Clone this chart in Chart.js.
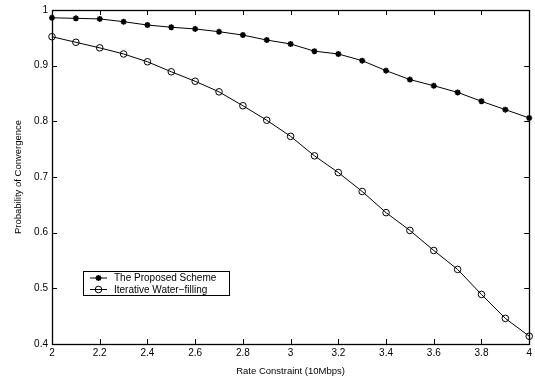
<!DOCTYPE html>
<html>
<head>
<meta charset="utf-8">
<script src="https://cdn.jsdelivr.net/npm/chart.js"></script>
<style>
    html, body { margin: 0; padding: 0; background: #fff; }
</style>
</head>
<body>
<canvas id="graficoConvergencia" width="535" height="383"></canvas>
<script>
// > Probabilidade de convergência em função da restrição de taxa
// > Duas curvas: esquema proposto (estrelas) e water-filling iterativo (círculos)

var taxas = [2.0, 2.1, 2.2, 2.3, 2.4, 2.5, 2.6, 2.7, 2.8, 2.9, 3.0,
             3.1, 3.2, 3.3, 3.4, 3.5, 3.6, 3.7, 3.8, 3.9, 4.0];

var probProposto = [0.986, 0.985, 0.984, 0.979, 0.973, 0.969, 0.966, 0.961, 0.955, 0.946, 0.939,
                    0.926, 0.921, 0.909, 0.891, 0.875, 0.864, 0.852, 0.836, 0.821, 0.806];

var probWaterFilling = [0.952, 0.942, 0.932, 0.921, 0.907, 0.889, 0.872, 0.853, 0.828, 0.802, 0.773,
                        0.738, 0.708, 0.674, 0.636, 0.604, 0.568, 0.534, 0.489, 0.446, 0.414];

var nomesSeries = ["The Proposed Scheme", "Iterative Water\u2212filling"];

var ticksX = [2, 2.2, 2.4, 2.6, 2.8, 3, 3.2, 3.4, 3.6, 3.8, 4];
var ticksY = [0.4, 0.5, 0.6, 0.7, 0.8, 0.9, 1];

var tituloX = "Rate Constraint (10Mbps)";
var tituloY = "Probability of Convergence";

var fonte = "'Liberation Sans', Arial, Helvetica, sans-serif";

// * Monta os pontos {x, y} a partir das listas
function pontos(valores) {
    var lista = [];
    for (let i = 0; i < taxas.length; i++) {
        lista.push({ x: taxas[i], y: valores[i] });
    }
    return lista;
}

function formataTick(v) {
    return String(Math.round(v * 10) / 10);
}

// ! Plugin que desenha a moldura, os ticks para dentro (estilo matlab) e a legenda
var molduraMatlab = {
    id: 'molduraMatlab',
    afterDraw: function (chart) {
        var ctx = chart.ctx;
        var area = chart.chartArea;
        var sx = chart.scales.x;
        var sy = chart.scales.y;
        var tam = 5;

        ctx.save();
        ctx.strokeStyle = '#000';
        ctx.lineWidth = 1;

        ctx.beginPath();
        sx.ticks.forEach(function (t) {
            var px = Math.round(sx.getPixelForValue(t.value)) + 0.5;
            ctx.moveTo(px, area.bottom);
            ctx.lineTo(px, area.bottom - tam);
            ctx.moveTo(px, area.top);
            ctx.lineTo(px, area.top + tam);
        });
        sy.ticks.forEach(function (t) {
            var py = Math.round(sy.getPixelForValue(t.value)) + 0.5;
            ctx.moveTo(area.left, py);
            ctx.lineTo(area.left + tam, py);
            ctx.moveTo(area.right, py);
            ctx.lineTo(area.right - tam, py);
        });
        ctx.stroke();

        ctx.lineWidth = 1.3;
        ctx.strokeRect(Math.round(area.left) + 0.5, Math.round(area.top) + 0.5,
                       Math.round(area.right - area.left), Math.round(area.bottom - area.top));

        // > Legenda dentro da área do gráfico
        var lx = area.left + 31;
        var ly = area.top + 261;
        var lw = 146;
        var lh = 24;
        ctx.fillStyle = '#fff';
        ctx.fillRect(lx, ly, lw, lh);
        ctx.lineWidth = 1;
        ctx.strokeRect(lx + 0.5, ly + 0.5, lw, lh);

        ctx.font = "10px " + fonte;
        ctx.textBaseline = 'middle';
        chart.data.datasets.forEach(function (ds, i) {
            var yy = ly + 7 + i * 11.5;
            ctx.strokeStyle = ds.borderColor;
            ctx.lineWidth = 1;
            ctx.beginPath();
            ctx.moveTo(lx + 7, yy);
            ctx.lineTo(lx + 24, yy);
            ctx.stroke();
            ctx.fillStyle = ds.pointBackgroundColor;
            ctx.strokeStyle = ds.pointBorderColor;
            ctx.lineWidth = ds.pointBorderWidth;
            Chart.helpers.drawPoint(ctx, {
                pointStyle: ds.pointStyle,
                radius: ds.pointRadius,
                borderWidth: ds.pointBorderWidth,
                rotation: 0
            }, lx + 15.5, yy);
            ctx.fillStyle = '#000';
            ctx.fillText(ds.label, lx + 31, yy + 0.5);
        });
        ctx.restore();
    }
};

var ctx = document.getElementById("graficoConvergencia").getContext("2d");

var grafico = new Chart(ctx, {
    type: 'line',
    data: {
        datasets: [{
            label: nomesSeries[0],
            data: pontos(probProposto),
            borderColor: '#000',
            backgroundColor: '#000',
            borderWidth: 1,
            pointStyle: 'star',
            pointRadius: 3,
            pointBorderWidth: 1.6,
            pointBorderColor: '#000',
            pointBackgroundColor: '#000',
            tension: 0,
            clip: false
        }, {
            label: nomesSeries[1],
            data: pontos(probWaterFilling),
            borderColor: '#000',
            backgroundColor: 'rgba(0,0,0,0)',
            borderWidth: 1,
            pointStyle: 'circle',
            pointRadius: 3.3,
            pointBorderWidth: 1,
            pointBorderColor: '#000',
            pointBackgroundColor: 'rgba(0,0,0,0)',
            tension: 0,
            clip: false
        }]
    },
    options: {
        responsive: false,
        animation: false,
        events: [],
        layout: { padding: { top: 8, right: 5, bottom: 0, left: 0 } },
        plugins: {
            legend: { display: false },
            tooltip: { enabled: false }
        },
        scales: {
            x: {
                type: 'linear',
                min: 2,
                max: 4,
                grid: { display: false, drawTicks: false },
                border: { display: false },
                afterBuildTicks: function (scale) {
                    scale.ticks = ticksX.map(function (v) { return { value: v }; });
                },
                afterFit: function (scale) { scale.height = 39; },
                ticks: {
                    color: '#000',
                    padding: 3,
                    maxRotation: 0,
                    autoSkip: false,
                    font: { family: fonte, size: 10 },
                    callback: formataTick
                },
                title: {
                    display: true,
                    text: tituloX,
                    color: '#000',
                    font: { family: fonte, size: 9.5 },
                    padding: { top: 0, bottom: 6 }
                }
            },
            y: {
                type: 'linear',
                min: 0.4,
                max: 1,
                grid: { display: false, drawTicks: false },
                border: { display: false },
                afterBuildTicks: function (scale) {
                    scale.ticks = ticksY.map(function (v) { return { value: v }; });
                },
                afterFit: function (scale) { scale.width = 52; },
                ticks: {
                    color: '#000',
                    padding: 4,
                    autoSkip: false,
                    font: { family: fonte, size: 10 },
                    callback: formataTick
                },
                title: {
                    display: true,
                    text: tituloY,
                    color: '#000',
                    font: { family: fonte, size: 9.5 },
                    padding: { top: 13, bottom: 0 }
                }
            }
        }
    },
    plugins: [molduraMatlab]
});
</script>
</body>
</html>
